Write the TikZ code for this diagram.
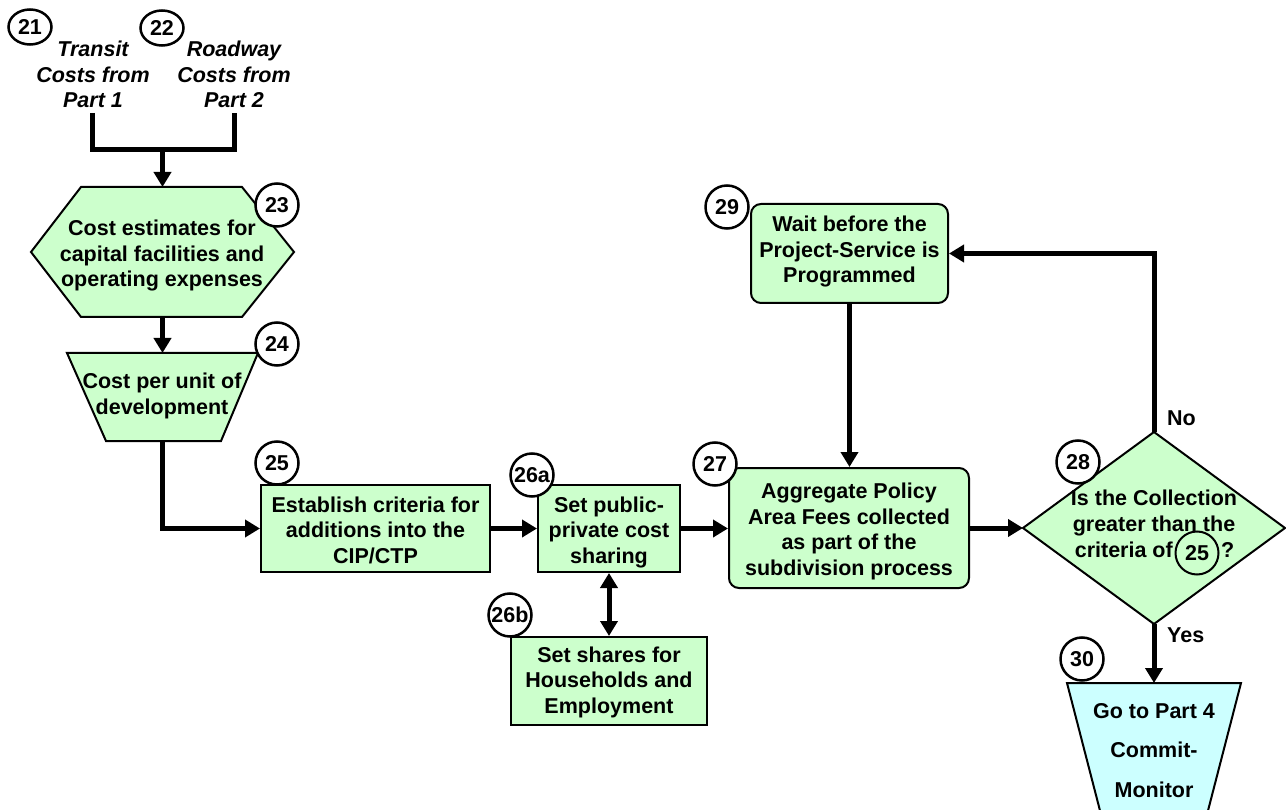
\documentclass[tikz,border=0pt]{standalone}
\usepackage{fontspec}
\setmainfont{Liberation Sans}
\usetikzlibrary{arrows.meta,shapes.geometric}
\definecolor{boxgreen}{HTML}{CCFFCC}
\definecolor{boxcyan}{HTML}{CCFFFF}
\begin{document}
\begin{tikzpicture}[x=1pt,y=-1pt,
  txt/.style={font=\fontsize{21.5}{25.5}\selectfont\bfseries, align=center, inner sep=0pt, anchor=base},
  itxt/.style={font=\fontsize{21.5}{25.5}\selectfont\bfseries\itshape, align=center, inner sep=0pt, anchor=base},
  num/.style={circle, draw, line width=2.5pt, fill=white, minimum size=43pt, inner sep=0pt, font=\fontsize{21.5}{21.5}\selectfont\bfseries},
  numell/.style={ellipse, draw, line width=2.5pt, fill=white, minimum width=43pt, minimum height=35pt, inner sep=0pt, font=\fontsize{21.5}{21.5}\selectfont\bfseries},
  holder/.style={inner sep=0pt, outer sep=0pt},
  outline/.style={draw, line width=2pt, fill=boxgreen},
  procbox/.style={draw, line width=2pt, fill=boxgreen, inner sep=0pt},
  conn/.style={line width=5pt},
  arr/.style={line width=5pt, -{Triangle[width=17pt,length=15pt]}},
  darr/.style={line width=5pt, {Triangle[width=17pt,length=15pt]}-{Triangle[width=17pt,length=15pt]}},
]
\useasboundingbox (0,0) rectangle (1286,810);
\clip (0,0) rectangle (1286,810);

% ---- shape holders ----
\node[holder, minimum width=263pt, minimum height=130pt] (n23) at (162.5,252) {};
\node[holder, minimum width=191pt, minimum height=88pt] (n24) at (162.5,397) {};
\node[procbox, minimum width=229pt, minimum height=87pt] (n25) at (375.5,528.5) {};
\node[procbox, minimum width=142pt, minimum height=87pt] (n26a) at (609,528.5) {};
\node[procbox, minimum width=196pt, minimum height=88pt] (n26b) at (609,681) {};
\node[procbox, rounded corners=10pt, minimum width=240pt, minimum height=120pt] (n27) at (849,528) {};
\node[procbox, rounded corners=10pt, minimum width=197pt, minimum height=99pt] (n29) at (849.5,253.5) {};
\node[holder, minimum width=262pt, minimum height=192pt] (n28) at (1154,528) {};
\node[holder, minimum width=174pt, minimum height=147pt] (n30) at (1154,756.5) {};

% ---- custom outlines ----
\draw[outline] (n23.west) -- ([xshift=50pt]n23.north west) -- ([xshift=-52pt]n23.north east)
  -- (n23.east) -- ([xshift=-52pt]n23.south east) -- ([xshift=50pt]n23.south west) -- cycle;
\draw[outline] (n24.north west) -- (n24.north east) -- ([xshift=-37pt]n24.south east)
  -- ([xshift=39pt]n24.south west) -- cycle;
\draw[outline] (n28.north) -- (n28.east) -- (n28.south) -- (n28.west) -- cycle;
\draw[draw, line width=2pt, fill=boxcyan] (n30.north west) -- (n30.north east)
  -- ([xshift=-38pt]n30.south east) -- ([xshift=38pt]n30.south west) -- cycle;

% ---- texts (anchor = baseline of the last line) ----
\node[itxt] (t21) at (93,108) {Transit\\Costs from\\Part 1};
\node[itxt] (t22) at (234,108) {Roadway\\Costs from\\Part 2};
\node[txt] (t23) at (162,287) {Cost estimates for\\capital facilities and\\operating expenses};
\node[txt] (t24) at (162,414) {Cost per unit of\\development};
\node[txt] (t25) at (375.5,563) {Establish criteria for\\additions into the\\CIP/CTP};
\node[txt] (t26a) at (609,563) {Set public-\\private cost\\sharing};
\node[txt] (t26b) at (609,713) {Set shares for\\Households and\\Employment};
\node[txt] (t27) at (849,575) {Aggregate Policy\\Area Fees collected\\as part of the\\subdivision process};
\node[txt] (t29) at (849.5,283) {Wait before the\\Project-Service is\\Programmed};
\node[txt] (t28) at (1154,531) {Is the Collection\\greater than the};
\node[txt, anchor=base east] (t28c) at (1173,557) {criteria of};
\node[txt, anchor=base west] (t28q) at (1221,557) {?};
\node[txt, font=\fontsize{21.5}{39.5}\selectfont\bfseries] (t30) at (1154,797) {Go to Part 4\\Commit-\\Monitor};
\node[txt, anchor=base west] (lno) at (1167,425) {No};
\node[txt, anchor=base west] (lyes) at (1167,642) {Yes};

% ---- connectors ----
\coordinate (a21) at (92.5,113);
\coordinate (a22) at (234.5,113);
\coordinate (j) at (162.5,150);
\draw[conn] (a21) |- (j) -| (a22);
\draw[arr] (j) -- (n23.north);
\draw[arr] (n23.south) -- (n24.north);
\draw[arr] (n24.south) |- (n25.west);
\draw[arr] (n25.east) -- (n26a.west);
\draw[arr] (n26a.east) -- (n26a.east -| n27.west);
\draw[arr] (n27.east) -- (n28.west);
\draw[arr] (n28.north) |- (n29.east);
\draw[arr] (n29.south) -- (n29.south |- n27.north);
\draw[arr] (n28.south) -- (n30.north);
\draw[darr] (n26a.south) -- (n26b.north);

% ---- numbers ----
\node[numell] (c21) at (30,27) {21};
\node[numell] (c22) at (162,28) {22};
\node[num] (c23) at (277,205) {23};
\node[num] (c24) at (277,344) {24};
\node[num] (c25) at (277,463) {25};
\node[num] (c26a) at (532,475) {26a};
\node[num] (c26b) at (510,615) {26b};
\node[num] (c27) at (715,464) {27};
\node[num] (c28) at (1078,462) {28};
\node[num] (c29) at (727,207) {29};
\node[num] (c30) at (1082,659) {30};
\node[num, fill=none, line width=2pt] (c25b) at (1197,553) {25};
\end{tikzpicture}
\end{document}
